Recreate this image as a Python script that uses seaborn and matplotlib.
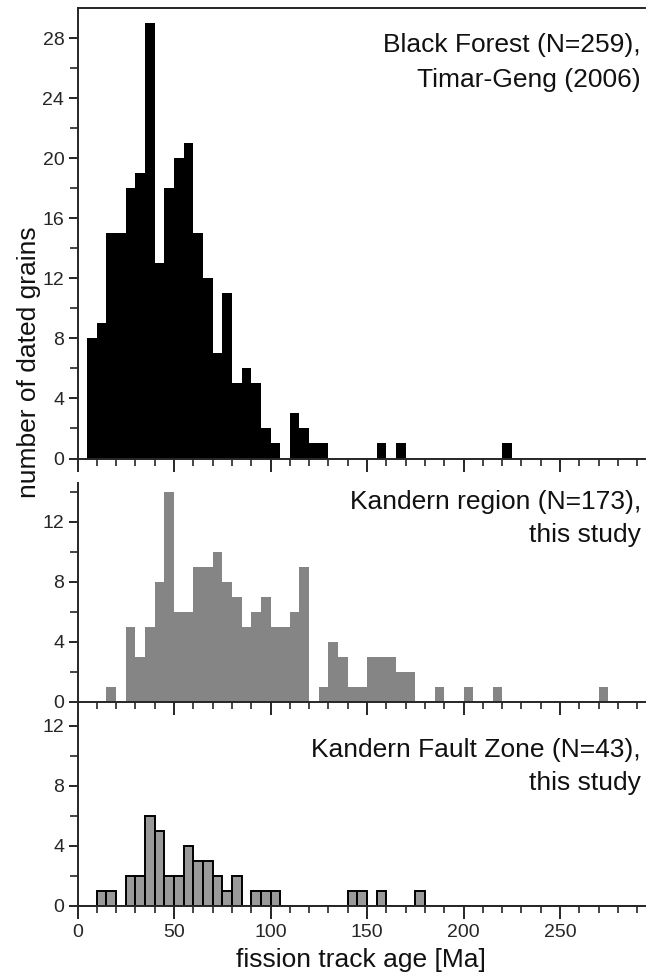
import numpy as np
import pandas as pd
import matplotlib
matplotlib.use("Agg")
import matplotlib.pyplot as plt
import seaborn as sns

# ---------------- data (bin start [Ma], count), 5 Ma bins ----------------
bf_start = [5, 10, 15, 20, 25, 30, 35, 40, 45, 50, 55, 60, 65, 70, 75, 80, 85,
            90, 95, 100, 110, 115, 120, 125, 155, 165, 220]
bf_count = [8, 9, 15, 15, 18, 19, 29, 13, 18, 20, 21, 15, 12, 7, 11, 5, 6,
            5, 2, 1, 3, 2, 1, 1, 1, 1, 1]

kr_start = [15, 25, 30, 35, 40, 45, 50, 55, 60, 65, 70, 75, 80, 85, 90, 95,
            100, 105, 110, 115, 125, 130, 135, 140, 145, 150, 155, 160, 165,
            170, 185, 200, 215, 270]
kr_count = [1, 5, 3, 5, 8, 14, 6, 6, 9, 9, 10, 8, 7, 5, 6, 7,
            5, 5, 6, 9, 1, 4, 3, 1, 1, 3, 3, 3, 2,
            2, 1, 1, 1, 1]

kf_start = [10, 15, 25, 30, 35, 40, 45, 50, 55, 60, 65, 70, 75, 80, 90, 95,
            100, 140, 145, 155, 175]
kf_count = [1, 1, 2, 2, 6, 5, 2, 2, 4, 3, 3, 2, 1, 2, 1, 1,
            1, 1, 1, 1, 1]

labels_top = ["Black Forest (N=259),", "Timar-Geng (2006)"]
labels_mid = ["Kandern region (N=173),", "this study"]
labels_bot = ["Kandern Fault Zone (N=43),", "this study"]
xlabel = "fission track age [Ma]"
ylabel = "number of dated grains"

# ---------------- style ----------------
sns.set_theme(style="ticks")
plt.rcParams["font.family"] = ["Liberation Sans", "DejaVu Sans"]
plt.rcParams["axes.linewidth"] = 1.4

W, H = 652, 974
fig = plt.figure(figsize=(W / 100, H / 100), dpi=100)

def frac_rect(left_px, top_px, right_px, bottom_px):
    return [left_px / W, 1 - bottom_px / H, (right_px - left_px) / W,
            (bottom_px - top_px) / H]

x0, x1 = 77.5, 645.0
ax1 = fig.add_axes(frac_rect(x0, 8.0, x1, 458.5))
ax2 = fig.add_axes(frac_rect(x0, 483.3, x1, 701.7))
ax3 = fig.add_axes(frac_rect(x0, 715.0, x1, 905.5))

def draw(ax, starts, counts, color, edgecolor, lw):
    df = pd.DataFrame({"age": np.asarray(starts, dtype=float) + 2.5,
                       "n": np.asarray(counts, dtype=float)})
    sns.histplot(data=df, x="age", weights="n", binwidth=5,
                 binrange=(0, 295), ax=ax, color=color, alpha=1,
                 edgecolor=edgecolor, linewidth=lw, stat="count")

draw(ax1, bf_start, bf_count, "black", "black", 0)
draw(ax2, kr_start, kr_count, "#858585", "#858585", 0)
draw(ax3, kf_start, kf_count, "#9a9a9a", "black", 1.4)

ylims = [(0, 30), (0, 14.56), (0, 12.7)]
for ax, yl in zip([ax1, ax2, ax3], ylims):
    ax.set_xlim(0, 294)
    ax.set_ylim(*yl)
    ax.set_xlabel("")
    ax.set_ylabel("")
    ax.set_xticks(np.arange(0, 300, 50))
    ax.set_xticks(np.arange(0, 295, 10), minor=True)
    ax.set_yticks(np.arange(0, yl[1], 4))
    ax.set_yticks(np.arange(0, yl[1], 2), minor=True)
    ax.tick_params(axis="x", which="major", direction="out", length=9,
                   width=1.4, labelsize=14, pad=4)
    ax.tick_params(axis="x", which="minor", direction="out", length=5,
                   width=1.2)
    ax.tick_params(axis="y", which="major", direction="out", length=6.5,
                   width=1.4, labelsize=14, pad=3)
    ax.tick_params(axis="y", which="minor", direction="out", length=6,
                   width=1.2)
    ax.spines["right"].set_visible(False)
    ax.set_facecolor("white")

ax1.spines["top"].set_visible(True)
ax2.spines["top"].set_visible(False)
ax3.spines["top"].set_visible(False)
ax1.tick_params(axis="x", labelbottom=False)
ax2.tick_params(axis="x", labelbottom=False)

txt_kw = dict(ha="right", va="center", fontsize=19, color="#111111")
def pos(top_px, bottom_px, y_px):
    return (bottom_px - y_px) / (bottom_px - top_px)

xr = (641 - x0) / (x1 - x0)
ax1.text(xr, pos(8.0, 458.5, 45), labels_top[0], transform=ax1.transAxes, **txt_kw)
ax1.text(xr, pos(8.0, 458.5, 80), labels_top[1], transform=ax1.transAxes, **txt_kw)
ax2.text(xr, pos(483.3, 701.7, 501.7), labels_mid[0], transform=ax2.transAxes, **txt_kw)
ax2.text(xr, pos(483.3, 701.7, 535), labels_mid[1], transform=ax2.transAxes, **txt_kw)
ax3.text(xr, pos(715.0, 905.5, 750), labels_bot[0], transform=ax3.transAxes, **txt_kw)
ax3.text(xr, pos(715.0, 905.5, 783), labels_bot[1], transform=ax3.transAxes, **txt_kw)

fig.text((x0 + x1) / 2 / W, 1 - 960 / H, xlabel, ha="center", va="center",
         fontsize=19, color="#111111")
fig.text(29 / W, 1 - 362 / H, ylabel, ha="center", va="center",
         rotation=90, fontsize=19, color="#111111")

fig.savefig("out.png", dpi=100, facecolor="white")
